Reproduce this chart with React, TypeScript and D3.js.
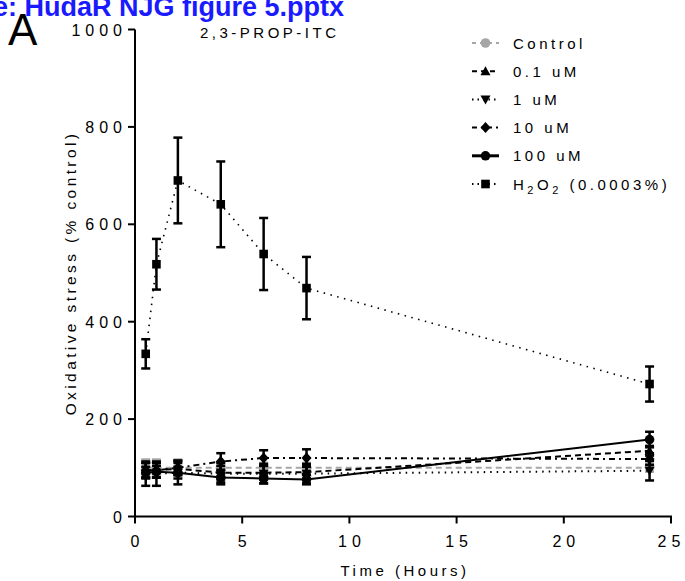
import React from "react";
import * as d3 from "d3";

const times = [0.5, 1, 2, 4, 6, 8, 24];
const controlVals = [100, 100, 100, 100, 100, 100, 100];
const controlErr = [17, 17, 17, 10, 10, 10, 8];
const p1Vals = [95, 95, 98, 90, 90, 91, 135];
const p1Err = [15, 15, 12, 14, 14, 14, 10];
const u1Vals = [88, 88, 90, 88, 88, 88, 94];
const u1Err = [25, 25, 24, 22, 20, 20, 20];
const u10Vals = [95, 95, 100, 113, 120, 120, 118];
const u10Err = [15, 15, 15, 17, 16, 18, 12];
const u100Vals = [90, 92, 90, 80, 78, 76, 158];
const u100Err = [12, 12, 12, 10, 10, 10, 16];
const h2o2Vals = [334, 518, 690, 641, 539, 469, 272];
const h2o2Err = [30, 52, 88, 88, 74, 64, 36];

const xTicks = [0, 5, 10, 15, 20, 25];
const yTicks = [0, 200, 400, 600, 800, 1000];

type Series = {
  name: string;
  vals: number[];
  err: number[];
  color: string;
  dash: string;
  width: number;
  marker: string;
};

const series: Series[] = [
  { name: "Control", vals: controlVals, err: controlErr, color: "#a6a6a6", dash: "6,4", width: 2, marker: "circle" },
  { name: "0.1 uM", vals: p1Vals, err: p1Err, color: "#000", dash: "6,4", width: 2, marker: "triUp" },
  { name: "1 uM", vals: u1Vals, err: u1Err, color: "#000", dash: "1.5,5", width: 2, marker: "triDown" },
  { name: "10 uM", vals: u10Vals, err: u10Err, color: "#000", dash: "6,4,2,4", width: 2, marker: "diamond" },
  { name: "100 uM", vals: u100Vals, err: u100Err, color: "#000", dash: "", width: 2, marker: "circle" },
  { name: "H2O2", vals: h2o2Vals, err: h2o2Err, color: "#000", dash: "1.5,5.5", width: 1.6, marker: "square" },
];

const FONT = "'Liberation Sans', Arial, sans-serif";
const LS = 3.5;
const NUM_FS = 16;
const NUM_LS = 5;

function Marker({ kind, x, y, color }: { kind: string; x: number; y: number; color: string }) {
  if (kind === "circle") return <circle cx={x} cy={y} r={4.8} fill={color} />;
  if (kind === "square") return <rect x={x - 4.3} y={y - 4.3} width={8.6} height={8.6} fill={color} />;
  if (kind === "triUp")
    return <path d={`M${x},${y - 5} L${x + 5},${y + 4} L${x - 5},${y + 4} Z`} fill={color} />;
  if (kind === "triDown")
    return <path d={`M${x},${y + 5} L${x + 5},${y - 4} L${x - 5},${y - 4} Z`} fill={color} />;
  return <path d={`M${x},${y - 5.5} L${x + 5},${y} L${x},${y + 5.5} L${x - 5},${y} Z`} fill={color} />;
}

export default function App() {
  const x = d3.scaleLinear().domain([0, 25]).range([135, 671]);
  const y = d3.scaleLinear().domain([0, 1000]).range([516.5, 29.5]);
  const line = d3
    .line<number>()
    .x((_, i) => x(times[i]))
    .y((v) => y(v));

  const legendX = 472;
  const legendY0 = 43;
  const legendDy = 28.2;

  return (
    <svg width={685} height={581} style={{ position: "absolute", left: 0, top: 0, background: "#fff" }} fontFamily={FONT}>
      <rect width={685} height={581} fill="#fff" />
      <text x={344} y={16} textAnchor="end" fontSize={27} fontWeight="bold" fill="#1a1aff">
        e: HudaR NJG figure 5.pptx
      </text>
      <text x={8} y={45} fontSize={44} fill="#000">A</text>
      <text x={200} y={38} fontSize={15} letterSpacing={LS} fill="#000">2,3-PROP-ITC</text>

      {/* axes */}
      <line x1={135} x2={135} y1={y(1000)} y2={y(0) + 1} stroke="#000" strokeWidth={2} />
      <line x1={134} x2={x(25) + 1} y1={y(0)} y2={y(0)} stroke="#000" strokeWidth={2} />
      {yTicks.map((t) => (
        <g key={"y" + t}>
          <line x1={128} x2={135} y1={y(t)} y2={y(t)} stroke="#000" strokeWidth={2} />
          <text x={127} y={y(t) + 6} textAnchor="end" fontSize={NUM_FS} letterSpacing={NUM_LS} fill="#000">
            {t}
          </text>
        </g>
      ))}
      {xTicks.map((t) => (
        <g key={"x" + t}>
          <line x1={x(t)} x2={x(t)} y1={y(0)} y2={y(0) + 7} stroke="#000" strokeWidth={2} />
          <text x={x(t) + NUM_LS / 2 - (t === 25 ? 2 : 0)} y={547} textAnchor="middle" fontSize={NUM_FS} letterSpacing={NUM_LS} fill="#000">
            {t}
          </text>
        </g>
      ))}
      <text x={x(12.5) + 2} y={576} textAnchor="middle" fontSize={15} letterSpacing={LS} fill="#000">
        Time (Hours)
      </text>
      <text
        transform={`translate(76,${(130 + 412) / 2 + 2}) rotate(-90)`}
        textAnchor="middle"
        fontSize={15.5}
        letterSpacing={3.4}
        fill="#000"
      >
        Oxidative stress (% control)
      </text>

      {/* series */}
      {series.map((s) => (
        <g key={s.name}>
          <path
            d={line(s.vals) || ""}
            fill="none"
            stroke={s.color}
            strokeWidth={s.width}
            strokeDasharray={s.dash || undefined}
          />
          {s.vals.map((v, i) => {
            const cx = x(times[i]);
            const y1 = y(v + s.err[i]);
            const y2 = y(v - s.err[i]);
            return (
              <g key={i}>
                <line x1={cx} x2={cx} y1={y1} y2={y2} stroke={s.color} strokeWidth={2.5} />
                <line x1={cx - 4.5} x2={cx + 4.5} y1={y1} y2={y1} stroke={s.color} strokeWidth={2.5} />
                <line x1={cx - 4.5} x2={cx + 4.5} y1={y2} y2={y2} stroke={s.color} strokeWidth={2.5} />
                <Marker kind={s.marker} x={cx} y={y(v)} color={s.color} />
              </g>
            );
          })}
        </g>
      ))}

      {/* legend */}
      {series.map((s, i) => {
        const cy = legendY0 + i * legendDy;
        return (
          <g key={"lg" + s.name}>
            <line
              x1={legendX}
              x2={legendX + 27}
              y1={cy}
              y2={cy}
              stroke={s.color}
              strokeWidth={s.name === "100 uM" ? 3 : 2}
              strokeDasharray={s.name === "Control" ? "4,4" : s.name === "1 uM" || s.name === "H2O2" ? "1.5,4" : s.name === "10 uM" ? "5,4,2,4" : s.name === "0.1 uM" ? "5,4" : undefined}
            />
            <Marker kind={s.marker} x={legendX + 13.5} y={cy} color={s.color} />
            {s.name === "H2O2" ? (
              <text x={513} y={cy + 5.5} fontSize={15} letterSpacing={LS} fill="#000">
                H<tspan fontSize={11} dy={4}>2</tspan>
                <tspan dy={-4}>O</tspan>
                <tspan fontSize={11} dy={4}>2</tspan>
                <tspan dy={-4}> (0.0003%)</tspan>
              </text>
            ) : (
              <text x={513} y={cy + 5.5} fontSize={15} letterSpacing={LS} fill="#000">
                {s.name}
              </text>
            )}
          </g>
        );
      })}
    </svg>
  );
}
